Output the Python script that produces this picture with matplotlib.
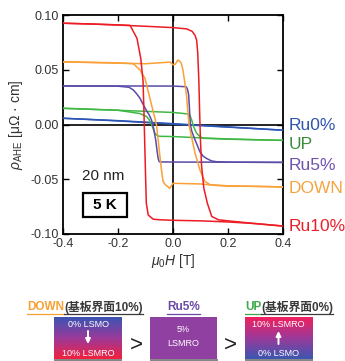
import numpy as np
import matplotlib
matplotlib.use("Agg")
import matplotlib.pyplot as plt
from matplotlib.colors import LinearSegmentedColormap

plt.rcParams['font.family'] = ['Liberation Sans', 'Noto Sans CJK JP', 'DejaVu Sans']
plt.rcParams['mathtext.fontset'] = 'custom'
plt.rcParams['mathtext.rm'] = 'Liberation Sans'
plt.rcParams['mathtext.it'] = 'Liberation Sans:italic'

# ---- data: up = sweep -0.4 -> 0.4 T, dn = sweep 0.4 -> -0.4 T ----
# Ru10%
h_r_up = [-0.4, -0.3, -0.2, -0.1, 0.0, 0.05, 0.07, 0.08, 0.086, 0.090, 0.094, 0.097,
          0.100, 0.104, 0.112, 0.125, 0.141, 0.165, 0.2, 0.3, 0.4]
r_r_up = [0.0925, 0.0918, 0.0908, 0.0897, 0.0885, 0.0873, 0.0850, 0.0815, 0.077, 0.065,
          0.040, 0.010, -0.015, -0.038, -0.058, -0.072, -0.084, -0.087, -0.088, -0.0905, -0.0927]
h_r_dn = [0.4, 0.3, 0.2, 0.1, 0.0, -0.048, -0.072, -0.090, -0.097, -0.100, -0.103,
          -0.106, -0.109, -0.117, -0.131, -0.156, -0.2, -0.3, -0.4]
r_r_dn = [-0.0928, -0.0905, -0.089, -0.088, -0.0875, -0.0870, -0.0865, -0.0827, -0.072,
          -0.045, -0.015, 0.015, 0.040, 0.060, 0.0787, 0.0905, 0.091, 0.0918, 0.0925]

# DOWN
h_o_up = [-0.4, -0.3, -0.2, -0.1, -0.01, 0.0, 0.008, 0.018, 0.025, 0.030, 0.036, 0.043,
          0.049, 0.058, 0.068, 0.080, 0.098, 0.116, 0.135, 0.2, 0.3, 0.4]
r_o_up = [0.0572, 0.0566, 0.0560, 0.0555, 0.0570, 0.0545, 0.0550, 0.0589, 0.0575, 0.0559,
          0.0498, 0.038, 0.027, 0.0, -0.012, -0.026, -0.0416, -0.052, -0.055, -0.056,
          -0.0565, -0.057]
h_o_dn = [0.4, 0.3, 0.2, 0.15, 0.1, 0.05, 0.0, -0.006, -0.012, -0.018, -0.028, -0.036,
          -0.042, -0.048, -0.054, -0.060, -0.066, -0.072, -0.081, -0.090, -0.102, -0.12,
          -0.144, -0.2, -0.3, -0.4]
r_o_dn = [-0.057, -0.0565, -0.0563, -0.0555, -0.0543, -0.054, -0.0537, -0.056, -0.0583,
          -0.057, -0.055, -0.052, -0.0416, -0.028, -0.014, -0.0005, 0.006, 0.0117, 0.021,
          0.030, 0.0422, 0.0498, 0.0555, 0.0563, 0.0568, 0.0573]

# Ru5%
h_p_up = [-0.4, -0.2, 0.0, 0.048, 0.053, 0.057, 0.060, 0.063, 0.068, 0.080, 0.090, 0.098,
          0.110, 0.122, 0.140, 0.159, 0.2, 0.3, 0.4]
r_p_up = [0.0352, 0.0352, 0.0351, 0.0345, 0.032, 0.027, 0.014, 0.0, -0.006, -0.014, -0.020,
          -0.025, -0.029, -0.031, -0.0333, -0.034, -0.0344, -0.0345, -0.0346]
h_p_dn = [0.4, 0.2, 0.0, -0.040, -0.050, -0.054, -0.058, -0.063, -0.070, -0.078, -0.087,
          -0.096, -0.108, -0.120, -0.132, -0.144, -0.160, -0.2, -0.4]
r_p_dn = [-0.0346, -0.0344, -0.0343, -0.0342, -0.034, -0.031, -0.024, -0.014, -0.004, 0.004,
          0.009, 0.0125, 0.018, 0.0239, 0.028, 0.0315, 0.034, 0.0350, 0.0352]

# UP
h_g_up = [-0.4, -0.2, 0.0, 0.056, 0.062, 0.068, 0.075, 0.086, 0.098, 0.110, 0.2, 0.3, 0.4]
r_g_up = [0.0148, 0.0130, 0.0110, 0.0096, 0.008, 0.004, -0.002, -0.008, -0.011, -0.0126,
          -0.0134, -0.0140, -0.0145]
h_g_dn = [0.4, 0.2, 0.1, 0.0, -0.047, -0.054, -0.060, -0.066, -0.072, -0.078, -0.087,
          -0.096, -0.120, -0.2, -0.4]
r_g_dn = [-0.0145, -0.0132, -0.0122, -0.0110, -0.0108, -0.0105, -0.0095, -0.008, -0.004,
          0.0, 0.0045, 0.0072, 0.010, 0.0130, 0.0148]

# Ru0%
h_b_up = [-0.4, -0.2, 0.0, 0.2, 0.4]
r_b_up = [0.0057, 0.0035, 0.0008, -0.0022, -0.0052]
h_b_dn = [0.4, 0.2, 0.0, -0.2, -0.4]
r_b_dn = [-0.0052, -0.0024, 0.0003, 0.0033, 0.0057]

names = ['Ru0%', 'UP', 'Ru5%', 'DOWN', 'Ru10%']
label_y = [-0.001, -0.018, -0.0375, -0.058, -0.0935]

line_colors = ['#2b55b5', '#40b845', '#5b4aa8', '#f9a037', '#ec1c24']
text_colors = ['#2f55b0', '#3c8c3c', '#7052b0', '#f5a440', '#e8202a']

curves = [(h_b_up, r_b_up, h_b_dn, r_b_dn),
          (h_g_up, r_g_up, h_g_dn, r_g_dn),
          (h_p_up, r_p_up, h_p_dn, r_p_dn),
          (h_o_up, r_o_up, h_o_dn, r_o_dn),
          (h_r_up, r_r_up, h_r_dn, r_r_dn)]

# ---- figure ----
fig = plt.figure(figsize=(3.45, 3.61), dpi=100)

ov = fig.add_axes([0, 0, 1, 1])
ov.axis('off')

ax = fig.add_axes([63/345, 1 - 234/361, 220/345, 219/361])
ax.set_zorder(2)

ax.axhline(0, color='black', lw=1.2, zorder=1)
ax.axvline(0, color='black', lw=1.2, zorder=1)

for (hu, ru, hd, rd), c in zip(curves, line_colors):
    ax.plot(hu, ru, color=c, lw=1.1, zorder=3)
    ax.plot(hd, rd, color=c, lw=1.1, zorder=3)

for n, yl, c in zip(names, label_y, text_colors):
    ax.text(1.025, yl, n, color=c, fontsize=12.5, va='center', ha='left',
            transform=ax.get_yaxis_transform(), clip_on=False)

ax.set_xlim(-0.4, 0.4)
ax.set_ylim(-0.1, 0.1)
ax.set_xticks([-0.4, -0.2, 0.0, 0.2, 0.4])
ax.set_yticks([-0.10, -0.05, 0.00, 0.05, 0.10])
ax.set_xticklabels(['-0.4', '-0.2', '0.0', '0.2', '0.4'])
ax.set_yticklabels(['-0.10', '-0.05', '0.00', '0.05', '0.10'])
ax.tick_params(direction='in', top=True, right=True, length=4, width=1,
               labelsize=9, labelcolor='#333333', pad=3)
for s in ax.spines.values():
    s.set_linewidth(1.3)

ax.set_xlabel(r'$\mu_0H$ [T]', fontsize=10, color='#333333', labelpad=1)
ax.set_ylabel(r'$\rho_{\rm AHE}$ [μΩ · cm]', fontsize=10,
              color='#333333', labelpad=4)

ax.text(0.182, 0.265, '20 nm', transform=ax.transAxes, fontsize=11,
        ha='center', va='center', color='#222222')
ax.add_patch(plt.Rectangle((0.091, 0.078), 0.2, 0.109, transform=ax.transAxes,
                           fill=False, ec='black', lw=1.6, zorder=4))
ax.text(0.191, 0.132, '5 K', transform=ax.transAxes, fontsize=11,
        fontweight='bold', ha='center', va='center', zorder=5)

# ---- bottom schematic (pixel coords) ----
blue_red = LinearSegmentedColormap.from_list('br', ['#3b54b2', '#9b3a9a', '#f2203e'])
red_blue = LinearSegmentedColormap.from_list('rb', ['#f0205e', '#9b3a9a', '#3c57b0'])
grad = np.linspace(0, 1, 100)[:, None]

ov.imshow(grad, cmap=blue_red, extent=(54, 122, 359, 317.5), aspect='auto', origin='upper')
ov.imshow(grad, cmap=red_blue, extent=(244.5, 312.5, 359, 317), aspect='auto', origin='upper')
ov.add_patch(plt.Rectangle((149.5, 316.5), 67, 42.5, fc='#9040a0', ec='none'))
for x0 in [54, 149.5, 244.5]:
    ov.add_patch(plt.Rectangle((x0, 359), 68, 2, fc='#888888', ec='none'))
ov.set_xlim(0, 345)
ov.set_ylim(361, 0)

inner = dict(color='white', fontsize=6.5, ha='center', va='center')
ov.text(88, 324.5, '0% LSMO', **inner)
ov.text(88, 353, '10% LSMRO', **inner)
ov.text(183, 330, '5%', **inner)
ov.text(183, 343, 'LSMRO', **inner)
ov.text(278.5, 324.5, '10% LSMRO', **inner)
ov.text(278.5, 353, '0% LSMO', **inner)
arr = dict(arrowstyle='-|>', color='white', lw=1.4, mutation_scale=7,
           shrinkA=0, shrinkB=0)
ov.annotate('', xy=(88, 344), xytext=(88, 331), arrowprops=arr)
ov.annotate('', xy=(278.5, 331), xytext=(278.5, 344), arrowprops=arr)

ov.text(136.5, 345, '>', fontsize=16, ha='center', va='center', color='#222222')
ov.text(230.5, 345, '>', fontsize=16, ha='center', va='center', color='#222222')

renderer = fig.canvas.get_renderer()


def header(x, parts, y=307.5):
    x_start = x
    for s, c in parts:
        t = ov.text(x, y, s, fontsize=8.5, fontweight='bold', color=c,
                    ha='left', va='center')
        w = t.get_window_extent(renderer).width
        ov.plot([x, x + w], [y + 6, y + 6], color=c, lw=0.9)
        x += w
    return x - x_start


header(27, [('DOWN', '#f7a033'), ('(基板界面10%)', '#3a3a3a')])
header(167, [('Ru5%', '#6a4aa6')])
header(245, [('UP', '#3aa84a'), ('(基板界面0%)', '#3a3a3a')])

fig.savefig('out.png', dpi=100)
